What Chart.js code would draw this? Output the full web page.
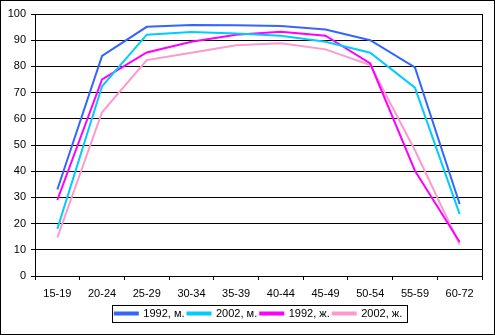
<!DOCTYPE html>
<html>
<head>
<meta charset="utf-8">
<script src="https://cdn.jsdelivr.net/npm/chart.js@4"></script>
<style>
    body { margin: 0; background: #ffffff; }
    #wrap { width: 495px; height: 335px; }
</style>
</head>
<body>
<div id="wrap"><canvas id="myChart" width="495" height="335"></canvas></div>
<script>
const ages = ['15-19', '20-24', '25-29', '30-34', '35-39', '40-44', '45-49', '50-54', '55-59', '60-72'];
const men1992 = [33, 84, 95.1, 95.8, 95.7, 95.4, 94.1, 90, 79.6, 27.5];
const men2002 = [18, 72.4, 92.1, 93.1, 92.6, 91.7, 89.4, 85.2, 71.9, 23.6];
const women1992 = [29, 75, 85.3, 89.4, 92.1, 93.2, 91.7, 81.1, 40.2, 13];
const women2002 = [14.7, 62.5, 82.4, 85.2, 88.1, 88.8, 86.5, 80.5, 48, 12];
const yTicks = [0, 10, 20, 30, 40, 50, 60, 70, 80, 90, 100];

const seriesNames = ['1992, м.', '2002, м.', '1992, ж.', '2002, ж.'];
const seriesColours = ['#3366ff', '#00ccff', '#ff00ff', '#ff99cc'];
const seriesValues = [men1992, men2002, women1992, women2002];

Chart.defaults.font.family = 'Arial, "Liberation Sans", sans-serif';
Chart.defaults.font.size = 11;
Chart.defaults.color = '#000000';

// frame around the whole picture, the right edge of the plot and the legend box
const framePlugin = {
    id: 'frame',
    beforeDraw(chart) {
        const ctx = chart.ctx;
        ctx.save();
        ctx.fillStyle = '#ffffff';
        ctx.fillRect(0, 0, chart.width, chart.height);
        ctx.restore();
    },
    afterDraw(chart) {
        const ctx = chart.ctx;
        const area = chart.chartArea;
        ctx.save();
        ctx.strokeStyle = '#000000';
        ctx.lineWidth = 1;
        ctx.strokeRect(0.5, 0.5, chart.width - 1, chart.height - 1);

        ctx.beginPath();
        ctx.moveTo(Math.round(area.right) + 0.5, Math.round(area.top));
        ctx.lineTo(Math.round(area.right) + 0.5, Math.round(area.bottom) + 4);
        ctx.stroke();

        const boxes = chart.legend.legendHitBoxes;
        if (boxes && boxes.length) {
            const left = Math.min(...boxes.map((b) => b.left)) - 3;
            const right = Math.max(...boxes.map((b) => b.left + b.width)) + 5;
            const top = Math.min(...boxes.map((b) => b.top)) - 3;
            const bottom = Math.max(...boxes.map((b) => b.top + b.height)) + 3;
            ctx.strokeRect(Math.round(left) + 0.5, Math.round(top) + 0.5, Math.round(right - left), Math.round(bottom - top));
        }
        ctx.restore();
    }
};

const datasets = [];
for (let i = 0; i < seriesNames.length; i++) {
    datasets.push({
        label: seriesNames[i],
        data: seriesValues[i],
        borderColor: seriesColours[i],
        backgroundColor: seriesColours[i],
        borderWidth: 2,
        pointRadius: 0,
        tension: 0,
        fill: false
    });
}

const chart = new Chart(document.getElementById('myChart'), {
    type: 'line',
    data: {
        labels: ages,
        datasets: datasets
    },
    options: {
        responsive: false,
        animation: false,
        layout: {
            padding: { left: 0, right: 13, top: 14, bottom: 6 }
        },
        plugins: {
            tooltip: { enabled: false },
            legend: {
                position: 'bottom',
                fullSize: false,
                labels: {
                    boxWidth: 23,
                    boxHeight: 2,
                    padding: 3,
                    font: { size: 11 },
                    color: '#000000'
                }
            }
        },
        scales: {
            x: {
                offset: true,
                grid: {
                    offset: true,
                    drawOnChartArea: false,
                    drawTicks: true,
                    tickLength: 4,
                    color: '#000000'
                },
                border: { color: '#000000' },
                ticks: {
                    padding: 7,
                    maxRotation: 0,
                    autoSkip: false,
                    color: '#000000'
                },
                afterFit: function (scale) {
                    scale.height = 29;
                }
            },
            y: {
                min: 0,
                max: 100,
                afterBuildTicks: function (scale) {
                    scale.ticks = yTicks.map((v) => ({ value: v }));
                },
                grid: {
                    color: '#000000',
                    tickLength: 4
                },
                border: { color: '#000000' },
                ticks: {
                    padding: 5,
                    color: '#000000'
                },
                afterFit: function (scale) {
                    scale.width = 35;
                }
            }
        }
    },
    plugins: [framePlugin]
});
</script>
</body>
</html>
